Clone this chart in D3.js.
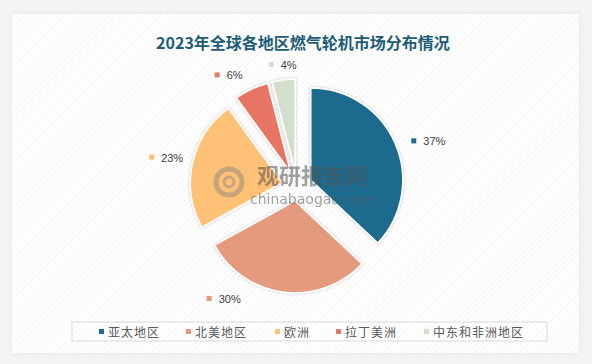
<!DOCTYPE html>
<html>
<head>
<meta charset="utf-8">
<script src="https://cdn.jsdelivr.net/npm/d3@7"></script>
<style>
  html, body { margin: 0; padding: 0; background: #f4f4f4; }
  svg { display: block; }
</style>
</head>
<body>
<div class="graph"></div>
<script>
// data
const regions = ["亚太地区", "北美地区", "欧洲", "拉丁美洲", "中东和非洲地区"];
const shares = [37, 30, 23, 6, 4];
const colors = ["#1e6a8d", "#e49a7b", "#ffc174", "#e87463", "#d1dfcb"];

const width = 592, height = 364;
const cx = 297, cy = 186, radius = 92, explode = 15, labelR = 130;
// small nudges so the labels sit where the original put them
const labelNudge = [[11, 7], [-58, -16], [-5, 0], [-11, 7], [4, 8]];

const svg = d3.select(".graph").append("svg")
  .attr("width", width)
  .attr("height", height);

const defs = svg.append("defs");

const pat = defs.append("pattern")
  .attr("id", "hatch")
  .attr("width", 4).attr("height", 4)
  .attr("patternUnits", "userSpaceOnUse")
  .attr("patternTransform", "rotate(45)");
pat.append("rect").attr("width", 4).attr("height", 4).attr("fill", "#ffffff");
pat.append("line")
  .attr("x1", 0).attr("y1", 0).attr("x2", 0).attr("y2", 4)
  .attr("stroke", "#efefef").attr("stroke-width", 1.2);

const shadow = defs.append("filter").attr("id", "shadow")
  .attr("x", "-20%").attr("y", "-20%").attr("width", "140%").attr("height", "140%");
shadow.append("feDropShadow")
  .attr("dx", 0).attr("dy", 0).attr("stdDeviation", 1.5)
  .attr("flood-color", "#000").attr("flood-opacity", 0.25);

const cardShadow = defs.append("filter").attr("id", "cardShadow")
  .attr("x", "-5%").attr("y", "-5%").attr("width", "110%").attr("height", "110%");
cardShadow.append("feDropShadow")
  .attr("dx", 0).attr("dy", 0).attr("stdDeviation", 3)
  .attr("flood-color", "#000").attr("flood-opacity", 0.06);

// card
svg.append("rect")
  .attr("x", 12).attr("y", 14)
  .attr("width", 567).attr("height", 339)
  .attr("fill", "url(#hatch)")
  .attr("filter", "url(#cardShadow)");

//title
svg.append("text")
  .attr("x", 303)
  .attr("y", 49)
  .attr("text-anchor", "middle")
  .attr("font-family", "'Noto Sans CJK SC', sans-serif")
  .attr("font-weight", "bold")
  .attr("font-size", 16)
  .attr("fill", "#1d5c78")
  .text("2023年全球各地区燃气轮机市场分布情况");

const pie = d3.pie().sort(null).value(d => d);
const arcs = pie(shares);

const arc = d3.arc().innerRadius(0).outerRadius(radius);
const labelArc = d3.arc().innerRadius(labelR).outerRadius(labelR);

const g = svg.append("g").attr("transform", "translate(" + cx + "," + cy + ")");

g.selectAll(".slice")
  .data(arcs)
  .enter().append("path")
  .attr("class", "slice")
  .attr("d", arc)
  .attr("transform", d => {
    const mid = (d.startAngle + d.endAngle) / 2;
    return "translate(" + (Math.sin(mid) * explode) + "," + (-Math.cos(mid) * explode) + ")";
  })
  .attr("fill", (d, i) => colors[i])
  .attr("stroke", "#ffffff")
  .attr("stroke-width", 1.5)
  .attr("filter", "url(#shadow)");

// watermark
const wm = svg.append("g").attr("opacity", 0.55);
wm.append("circle").attr("cx", 229).attr("cy", 182).attr("r", 13)
  .attr("fill", "none").attr("stroke", "#9a8d80").attr("stroke-width", 5);
wm.append("circle").attr("cx", 229).attr("cy", 182).attr("r", 5)
  .attr("fill", "none").attr("stroke", "#9a8d80").attr("stroke-width", 3);
wm.append("text")
  .attr("x", 312).attr("y", 184)
  .attr("text-anchor", "middle")
  .attr("font-family", "'Noto Sans CJK SC', sans-serif")
  .attr("font-weight", "bold")
  .attr("font-size", 22)
  .attr("fill", "#555")
  .text("观研报告网");
wm.append("text")
  .attr("x", 312).attr("y", 204)
  .attr("text-anchor", "middle")
  .attr("font-family", "'DejaVu Sans', sans-serif")
  .attr("font-size", 14)
  .attr("fill", "#555")
  .text("chinabaogao.com");

// data labels
const labels = svg.append("g")
  .selectAll("g")
  .data(arcs)
  .enter().append("g")
  .attr("transform", (d, i) => {
    const c = labelArc.centroid(d);
    return "translate(" + (cx + c[0] + labelNudge[i][0]) + "," + (cy + c[1] + labelNudge[i][1]) + ")";
  });

labels.append("rect")
  .attr("x", -16).attr("y", -3)
  .attr("width", 5).attr("height", 5)
  .attr("fill", (d, i) => colors[i]);

labels.append("text")
  .attr("x", -4)
  .attr("y", 4)
  .attr("font-family", "'Liberation Sans', Arial, sans-serif")
  .attr("font-size", 11)
  .attr("fill", "#404040")
  .text(d => d.data + "%");

// legend
svg.append("rect")
  .attr("x", 72).attr("y", 322)
  .attr("width", 475).attr("height", 19)
  .attr("fill", "none")
  .attr("stroke", "#d9d9d9");

const legendX = d3.scaleOrdinal()
  .domain(regions)
  .range([101, 188, 277, 338, 426]);

const leg = svg.append("g")
  .selectAll("g")
  .data(regions)
  .enter().append("g")
  .attr("transform", d => "translate(" + legendX(d) + ",332)");

leg.append("rect")
  .attr("x", -2).attr("y", -3)
  .attr("width", 5).attr("height", 5)
  .attr("fill", (d, i) => colors[i]);

leg.append("text")
  .attr("x", 7)
  .attr("y", 5)
  .attr("font-family", "'Noto Sans CJK SC', sans-serif")
  .attr("font-size", 12)
  .attr("letter-spacing", 1)
  .attr("fill", "#595959")
  .text(d => d);
</script>
</body>
</html>
